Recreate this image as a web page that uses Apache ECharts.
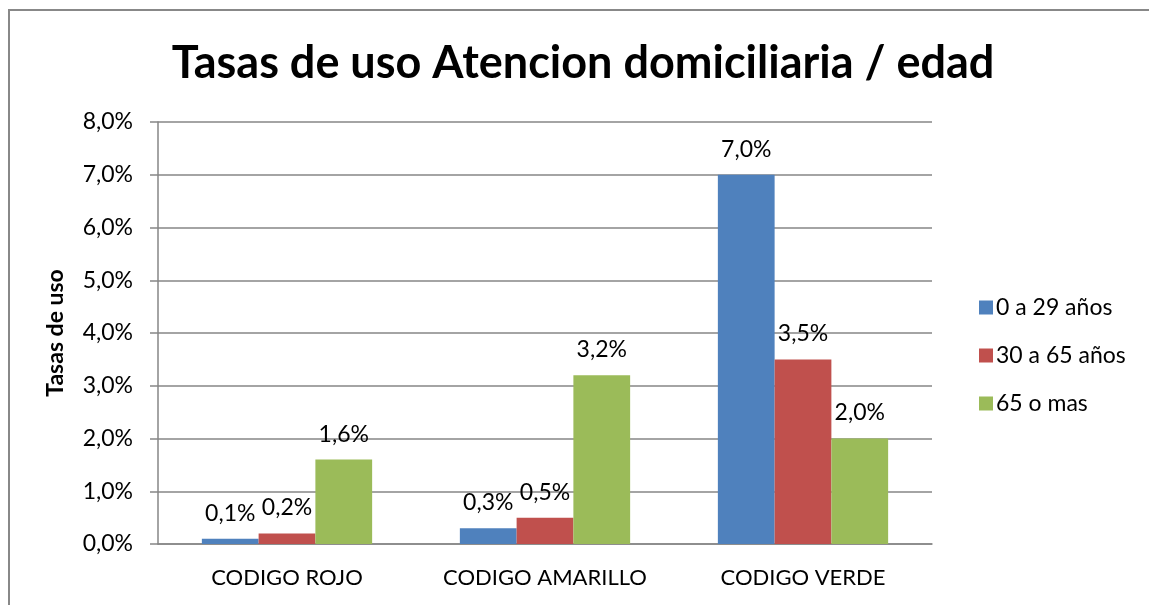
<!DOCTYPE html>
<html>
<head>
<meta charset="utf-8">
<script src="https://cdn.jsdelivr.net/npm/echarts@6/dist/echarts.min.js"></script>
<style>
html,body{margin:0;padding:0;background:#fff;}
#c{width:1149px;height:605px;}
</style>
</head>
<body>
<div id="c"></div>
<script>
var categories = ['CODIGO ROJO', 'CODIGO AMARILLO', 'CODIGO VERDE'];
var seriesNames = ['0 a 29 años', '30 a 65 años', '65 o mas'];
var s0 = [0.1, 0.3, 7.0];
var s1 = [0.2, 0.5, 3.5];
var s2 = [1.6, 3.2, 2.0];
var colors = ['#4F81BD', '#C0504D', '#9BBB59'];
var titleText = 'Tasas de uso Atencion domiciliaria / edad';
var yAxisName = 'Tasas de uso';

var FONT = 'Lato, "Open Sans", sans-serif';
function fmt(v) { return v.toFixed(1).replace('.', ',') + '%'; }

var chart = echarts.init(document.getElementById('c'), null, {renderer: 'canvas'});
var data = [s0, s1, s2];
var series = data.map(function (d, i) {
  return {
    name: seriesNames[i],
    type: 'bar',
    data: d,
    barGap: '0%',
    barCategoryGap: '34%',
    itemStyle: {color: colors[i]},
    label: {
      show: true, position: 'top', distance: 14,
      fontFamily: FONT, fontSize: 23, color: '#000',
      formatter: function (p) { return fmt(p.value); }
    }
  };
});

chart.setOption({
  animation: false,
  title: {
    text: titleText, left: 578, top: 36, textAlign: 'center',
    textStyle: {fontFamily: FONT, fontSize: 45, fontWeight: 'bold', color: '#000'}
  },
  legend: {
    orient: 'vertical', left: 974, top: 291, itemWidth: 14, itemHeight: 14,
    itemGap: 25, icon: 'rect',
    textStyle: {fontFamily: FONT, fontSize: 23, color: '#000', padding: [0, 0, 0, -2]},
    data: seriesNames
  },
  grid: {left: 158, right: 217, top: 122, bottom: 61, containLabel: false},
  xAxis: {
    type: 'category', data: categories,
    axisLine: {lineStyle: {color: '#868686', width: 1.5}},
    axisTick: {show: false},
    axisLabel: {fontFamily: FONT, fontSize: 22, color: '#000', margin: 23,
      interval: 0, hideOverlap: false}
  },
  yAxis: {
    type: 'value', min: 0, max: 8, interval: 1,
    name: yAxisName, nameLocation: 'middle', nameGap: 91, nameRotate: 90,
    nameTextStyle: {fontFamily: FONT, fontSize: 23, fontWeight: 'bold', color: '#000'},
    axisLine: {show: true, lineStyle: {color: '#868686', width: 1.5}},
    axisTick: {show: true, length: 8, lineStyle: {color: '#868686', width: 1.5}},
    splitLine: {lineStyle: {color: '#868686', width: 1.5}},
    axisLabel: {fontFamily: FONT, fontSize: 23, color: '#000', margin: 25,
      formatter: function (v) { return fmt(v); }}
  },
  graphic: [{
    type: 'polyline', silent: true,
    shape: {points: [[9, 610], [9, 10], [1160, 10]]},
    style: {stroke: '#888', lineWidth: 2, fill: null}
  }],
  series: series
});
</script>
</body>
</html>
